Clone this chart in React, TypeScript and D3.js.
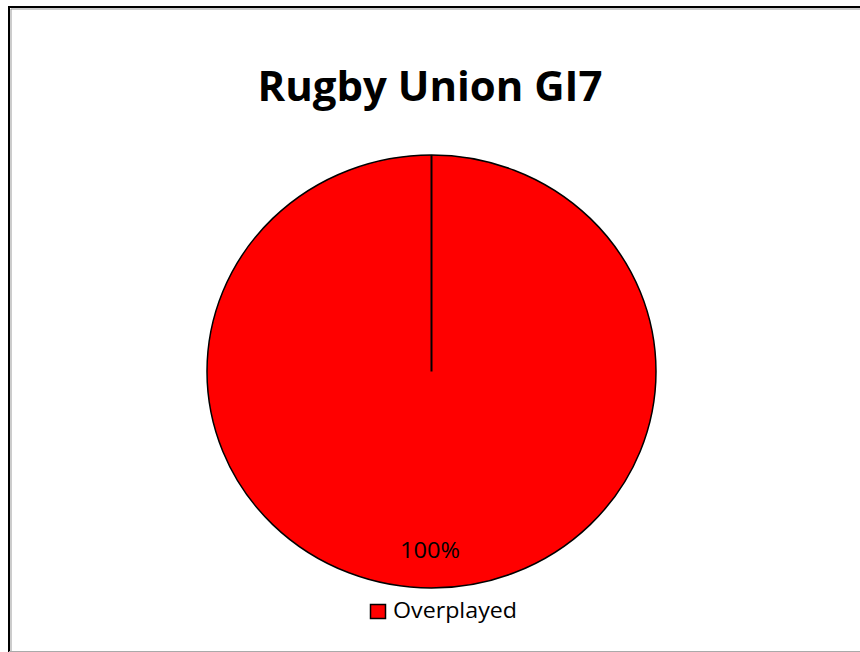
import { useEffect, useRef } from 'react'
import * as d3 from 'd3'

const categories = ['Overplayed']
const values = [100]
const colors = ['#ff0000']
const title = 'Rugby Union GI7'

const font = '"Open Sans", "Liberation Sans", sans-serif'

const App = () => {
	const svgRef = useRef(null)

	useEffect(() => {
		const width = 860
		const height = 652
		const svg = d3.select(svgRef.current)
		svg.selectAll('*').remove()
		svg.attr('width', width).attr('height', height)

		svg.append('rect').attr('width', width).attr('height', height).attr('fill', '#ffffff')

		// chart frame
		svg
			.append('path')
			.attr('d', `M9,${height}V7H${width}`)
			.attr('fill', 'none')
			.attr('stroke', '#000')
			.attr('stroke-width', 2)
		svg
			.append('path')
			.attr('d', `M11,${height}V9H${width}`)
			.attr('fill', 'none')
			.attr('stroke', '#999')
			.attr('stroke-width', 1)
		svg
			.append('line')
			.attr('x1', 9)
			.attr('x2', width)
			.attr('y1', 651.5)
			.attr('y2', 651.5)
			.attr('stroke', '#aaa')

		// title
		svg
			.append('text')
			.attr('x', 430)
			.attr('y', 101)
			.attr('text-anchor', 'middle')
			.attr('textLength', 345)
			.attr('lengthAdjust', 'spacingAndGlyphs')
			.style('font-family', font)
			.style('font-weight', 'bold')
			.style('font-size', '42px')
			.text(title)

		// pie
		const cx = 431.5
		const cy = 371.5
		const rx = 224.5
		const ry = 216.5
		const pie = d3.pie<number>().sort(null)(values)
		const arc = d3.arc<d3.PieArcDatum<number>>().innerRadius(0).outerRadius(rx)

		const g = svg
			.append('g')
			.attr('transform', `translate(${cx},${cy}) scale(1,${ry / rx})`)

		g.selectAll('path.slice')
			.data(pie)
			.enter()
			.append('path')
			.attr('class', 'slice')
			.attr('d', arc)
			.attr('fill', (d, i) => colors[i])
			.attr('stroke', '#000')
			.attr('stroke-width', 1.5)
			.attr('vector-effect', 'non-scaling-stroke')

		// radial edge of the full slice
		pie.forEach((d) => {
			const a = d.startAngle
			g.append('line')
				.attr('x1', 0)
				.attr('y1', 0)
				.attr('x2', rx * Math.sin(a))
				.attr('y2', -rx * Math.cos(a))
				.attr('stroke', '#000')
				.attr('stroke-width', 2)
				.attr('vector-effect', 'non-scaling-stroke')
		})

		// data labels
		const total = d3.sum(values)
		pie.forEach((d, i) => {
			svg
				.append('text')
				.attr('x', 430)
				.attr('y', 558)
				.attr('text-anchor', 'middle')
				.attr('textLength', 60)
				.attr('lengthAdjust', 'spacingAndGlyphs')
				.style('font-family', font)
				.style('font-size', '21px')
				.text(`${Math.round((values[i] / total) * 100)}%`)
		})

		// legend
		const legend = svg.append('g').attr('transform', 'translate(370,604)')
		categories.forEach((c, i) => {
			legend
				.append('rect')
				.attr('x', 0.5)
				.attr('y', 0.5)
				.attr('width', 15)
				.attr('height', 14)
				.attr('fill', colors[i])
				.attr('stroke', '#000')
				.attr('stroke-width', 1.5)
			legend
				.append('text')
				.attr('x', 23)
				.attr('y', 14)
				.attr('textLength', 124)
				.attr('lengthAdjust', 'spacingAndGlyphs')
				.style('font-family', font)
				.style('font-size', '22px')
				.text(c)
		})
	}, [])

	return <svg ref={svgRef} style={{ position: 'absolute', left: 0, top: 0 }}></svg>
}

export default App
